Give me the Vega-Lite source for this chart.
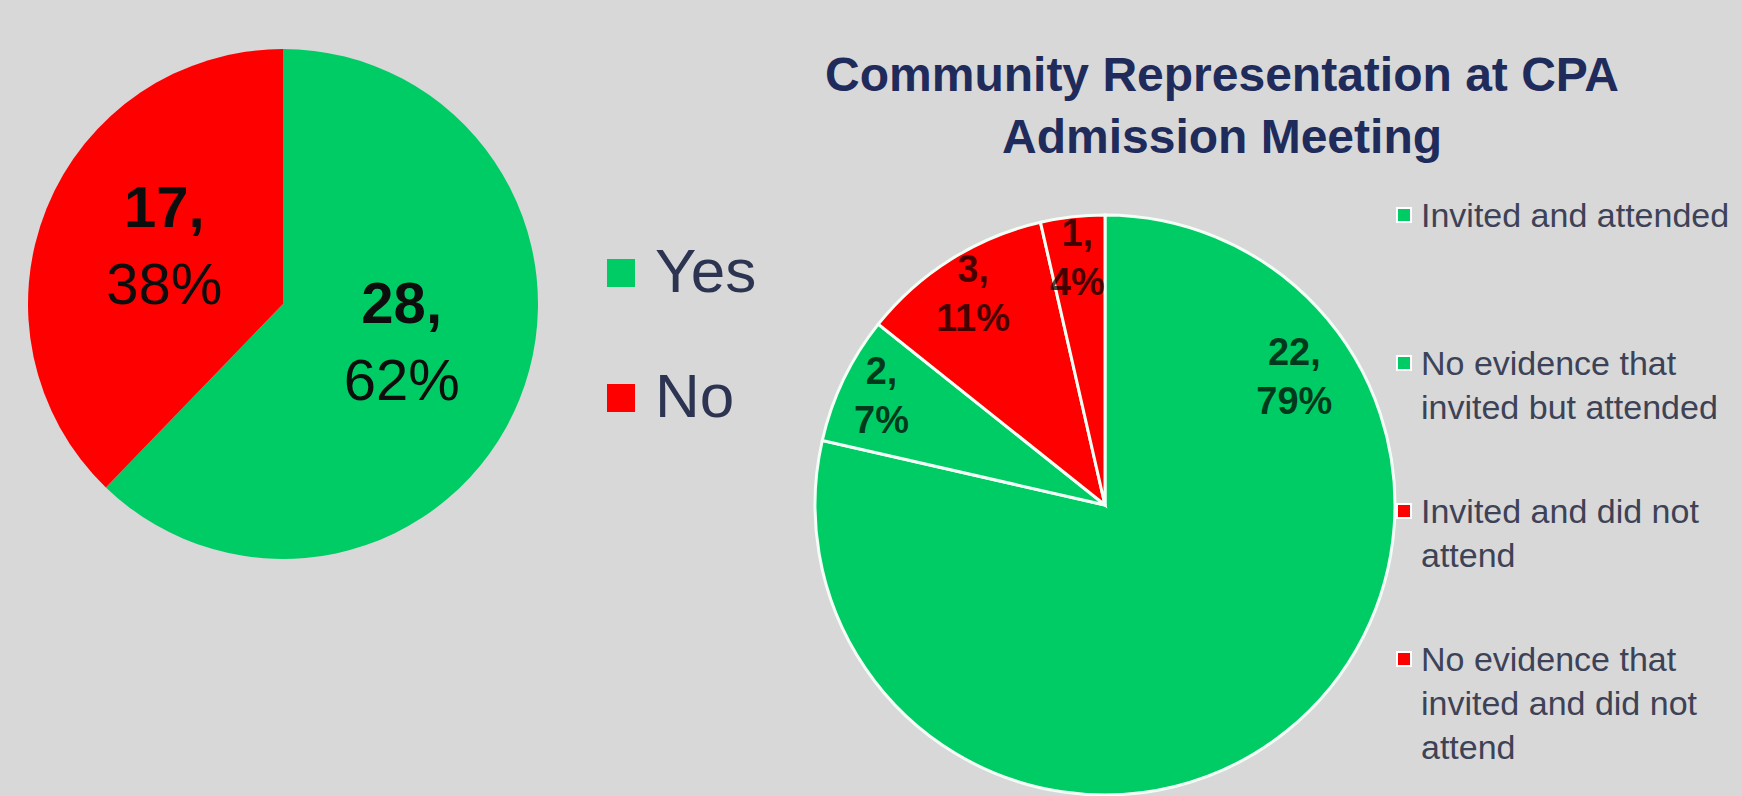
{
  "$schema": "https://vega.github.io/schema/vega-lite/v6.json",
  "background": "#d8d8d8",
  "padding": {"left": 0, "top": 49, "right": 40, "bottom": 10},
  "bounds": "flush",
  "spacing": 249,
  "config": {"view": {"stroke": null}, "font": "Liberation Sans"},
  "resolve": {"scale": {"color": "independent", "theta": "independent"}, "legend": {"color": "independent"}},
  "hconcat": [
    {
      "width": 566,
      "height": 178,
      "data": {"values": [
        {"answer": "Yes", "count": 28, "pct": 62, "rank": 1},
        {"answer": "No", "count": 17, "pct": 38, "rank": 2}
      ]},
      "encoding": {
        "theta": {"field": "count", "type": "quantitative", "stack": true},
        "order": {"field": "rank", "type": "quantitative"}
      },
      "layer": [
        {
          "mark": {"type": "arc", "outerRadius": 255},
          "encoding": {
            "color": {
              "field": "answer", "type": "nominal",
              "scale": {"domain": ["Yes", "No"], "range": ["#00cc66", "#ff0000"]},
              "legend": {
                "title": null, "orient": "none", "legendX": 590, "legendY": 27,
                "symbolType": "square", "symbolSize": 784, "symbolStrokeWidth": 0,
                "labelFontSize": 62, "labelFont": "Liberation Sans", "labelColor": "#2c3452",
                "labelOffset": 3, "rowPadding": 63, "labelLimit": 400
              }
            }
          }
        },
        {
          "mark": {"type": "text", "radius": 128, "dy": -46, "fontSize": 58, "fontWeight": "bold", "font": "Liberation Sans", "color": "#0d0d0d", "text": {"expr": "datum.count + ','"}}
        },
        {
          "mark": {"type": "text", "radius": 128, "dy": 31, "fontSize": 58, "font": "Liberation Sans", "color": "#0d0d0d", "text": {"expr": "datum.pct + '%'"}}
        }
      ]
    },
    {
      "width": 580,
      "height": 580,
      "title": {
        "text": ["Community Representation at CPA", "Admission Meeting"],
        "anchor": "middle", "frame": "group", "dx": 117, "offset": 35,
        "fontSize": 48, "lineHeight": 62, "font": "Liberation Sans", "fontWeight": "bold", "color": "#1f2b5a"
      },
      "data": {"values": [
        {"category": "Invited and attended", "count": 22, "pct": 79, "rank": 1},
        {"category": "No evidence that invited but attended", "count": 2, "pct": 7, "rank": 2},
        {"category": "Invited and did not attend", "count": 3, "pct": 11, "rank": 3},
        {"category": "No evidence that invited and did not attend", "count": 1, "pct": 4, "rank": 4}
      ]},
      "encoding": {
        "theta": {"field": "count", "type": "quantitative", "stack": true},
        "order": {"field": "rank", "type": "quantitative"}
      },
      "layer": [
        {
          "mark": {"type": "arc", "outerRadius": 290, "stroke": "#f2fff6", "strokeWidth": 3},
          "encoding": {
            "color": {
              "field": "category", "type": "nominal",
              "scale": {
                "domain": ["Invited and attended", "No evidence that invited but attended", "Invited and did not attend", "No evidence that invited and did not attend"],
                "range": ["#00cc66", "#00cc66", "#ff0000", "#ff0000"]
              },
              "legend": {
                "title": null, "orient": "none", "legendX": 572, "legendY": -17,
                "symbolType": "square", "symbolSize": 196, "symbolStrokeColor": "#ffffff", "symbolStrokeWidth": 2,
                "labelFontSize": 34, "labelFont": "Liberation Sans", "labelColor": "#3d4257",
                "labelOffset": 0, "labelLimit": 800, "labelBaseline": "alphabetic", "rowPadding": 24,
                "labelExpr": "datum.label == 'Invited and attended' ? ['Invited and attended', '', ''] : datum.label == 'No evidence that invited but attended' ? ['No evidence that', 'invited but attended', ''] : datum.label == 'Invited and did not attend' ? ['Invited and did not', 'attend', ''] : ['No evidence that', 'invited and did not', 'attend']",
                "encode": {"labels": {"update": {"dy": {"value": 12}, "lineHeight": {"value": 44}}}}
              }
            }
          }
        },
        {
          "mark": {"type": "text", "radius": 248, "dy": -24, "fontSize": 38, "fontWeight": "bold", "font": "Liberation Sans", "color": "#000000", "fillOpacity": 0.72, "lineHeight": 49, "baseline": "middle", "text": {"expr": "[datum.count + ',', datum.pct + '%']"}},
          "encoding": {"opacity": {"condition": {"test": "datum.count > 10", "value": 0}, "value": 1}}
        },
        {
          "transform": [{"filter": "datum.count > 10"}],
          "mark": {"type": "text", "radius": 228, "dy": -24, "fontSize": 38, "fontWeight": "bold", "font": "Liberation Sans", "color": "#000000", "fillOpacity": 0.72, "lineHeight": 49, "baseline": "middle", "text": {"expr": "[datum.count + ',', datum.pct + '%']"}},
          "encoding": {"theta": {"value": 0.98}}
        }
      ]
    }
  ]
}
